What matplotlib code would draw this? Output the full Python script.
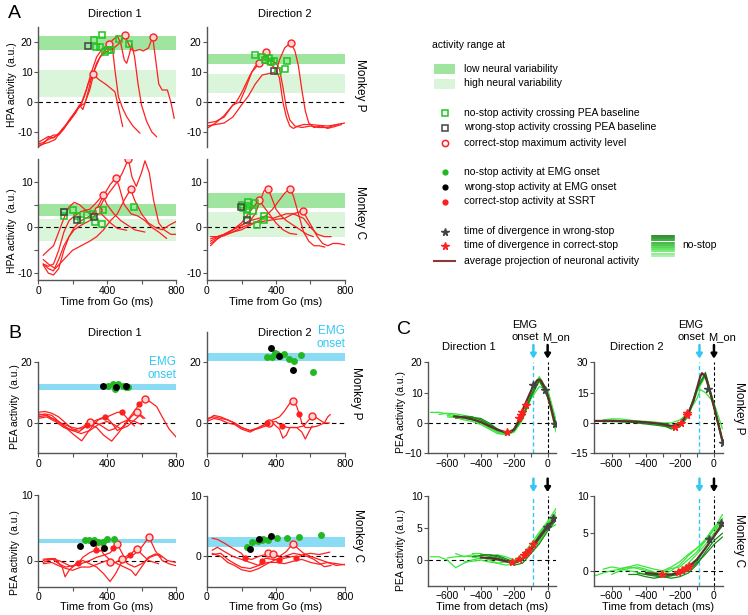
import numpy as np
import matplotlib
matplotlib.use("Agg")
import matplotlib.pyplot as plt

plt.rcParams['font.family'] = ['Liberation Sans', 'DejaVu Sans']
plt.rcParams['font.size'] = 7.5
plt.rcParams['axes.linewidth'] = 1.0

# ---------------- colours ----------------
RED = '#ff1f1f'
BAND_DK = '#9fe49f'
BAND_LT = '#daf5da'
SQ_GREEN = '#1fc41f'
DOT_GREEN = '#22b822'
CYAN_BAND = '#8adcf5'
CYAN = '#33c8f2'
LIME = '#3be63b'
DKGREEN = '#178a17'
AVG = '#5e2f2f'
GRAY = '#444444'
SPINE = '#555555'

# ================= Panel A data (HPA activity) =================
A_P1_curves = [
    [(0, -14), (30, -13.5), (60, -12.5), (100, -11.5), (140, -9.5), (180, -6), (220, -3), (250, -1), (270, 2),
     (290, 6), (321, 9.2), (350, 7.6), (398, 5.7), (446, 3.4), (466, -1.6), (491, -8.2)],
    [(0, -15), (30, -14), (60, -12), (90, -11), (120, -11), (150, -9), (190, -5.5), (230, -2), (250, -0.5),
     (280, 4), (310, 10), (340, 15), (370, 17.5), (395, 18.5), (413, 19.2), (433, 17.3), (446, 10.7),
     (466, 1.8), (490, -2), (514, -4.9), (550, -8), (591, -10.4)],
    [(0, -14.5), (30, -14), (60, -13.5), (100, -12.5), (140, -9), (180, -6.5), (220, -3.5), (240, -1),
     (260, -2.5), (280, 1), (310, 8), (340, 13), (370, 16), (400, 18), (430, 20.5), (460, 22), (480, 19.5),
     (500, 14), (514, 12.9), (530, 16), (543, 19.3), (560, 15), (580, 6), (600, -1), (630, -6.5),
     (660, -10), (688, -11.6)],
    [(0, -13.5), (30, -12.5), (60, -11.5), (90, -12), (120, -10.5), (160, -8), (200, -5), (240, -1.5),
     (270, -0.5), (300, 4), (330, 11), (360, 15), (400, 17), (440, 18), (470, 19.5), (504, 22.4), (520, 20),
     (540, 17.5), (560, 17), (590, 17.5), (610, 17), (640, 18), (665, 21.7), (680, 15), (700, 6), (720, 4),
     (750, 4), (770, 0), (790, -5.5)],
]
A_P1_circ_t = [321, 413, 504, 665]
A_P1_circ_v = [9.2, 19.2, 22.4, 21.7]
A_P1_sqg_t = [326, 372, 336, 360, 387, 405, 425, 467, 530]
A_P1_sqg_v = [20.7, 22.3, 18.3, 18.5, 16.8, 17.5, 17.2, 21.0, 19.3]
A_P1_sqk_t = [292]
A_P1_sqk_v = [18.8]
A_P1_bands = [(17.3, 22.0), (1.6, 10.7)]

A_P2_curves = [
    [(0, -7), (50, -6.5), (100, -5), (150, -1), (170, 0), (200, 3), (250, 9), (280, 12), (300, 12.9), (330, 13),
     (360, 12.5), (380, 12), (400, 11), (420, 8), (440, 0), (460, -5), (480, -8), (500, -8.8), (530, -8),
     (560, -7.5), (600, -7.5), (650, -7.8), (700, -8), (761, -7.5)],
    [(0, -8.8), (50, -7), (100, -4.5), (150, -1), (190, 0), (220, 4), (260, 10), (290, 12), (320, 14),
     (342, 16.6), (360, 14), (400, 13), (420, 11), (440, 5), (460, -2), (480, -6), (510, -8), (550, -8.5),
     (600, -8), (650, -8.5), (700, -8.5), (750, -7.5), (800, -7)],
    [(0, -8), (50, -7.5), (100, -7), (150, -5), (200, -1), (240, 2), (280, 6), (320, 9), (360, 9.5), (400, 10),
     (420, 14), (450, 18), (485, 19.8), (510, 17), (530, 12), (550, 4), (570, -3), (590, -7), (620, -8.5),
     (660, -8), (700, -8.8), (740, -8.2), (780, -7.5)],
]
A_P2_circ_t = [300, 342, 485]
A_P2_circ_v = [12.9, 16.6, 19.8]
A_P2_sqg_t = [278, 317, 336, 361, 369, 388, 413, 452, 466]
A_P2_sqg_v = [15.7, 15.1, 14.0, 14.7, 13.4, 13.8, 10.3, 11.0, 13.7]
A_P2_sqk_t = [388]
A_P2_sqk_v = [10.3]
A_P2_bands = [(12.6, 16.0), (3.1, 9.2)]

A_C1_curves = [
    [(30, -6.1), (60, -5), (90, -4), (120, -1), (150, 2), (180, 4.5), (210, 5.5), (240, 5), (270, 4), (300, 3),
     (330, 3.2), (346, 3.8), (380, 2.5), (420, 1), (460, -0.2), (514, -0.6)],
    [(30, -8), (60, -8.5), (90, -8), (120, -5), (150, -1), (180, 1.5), (210, 2.5), (250, 3.5), (300, 4),
     (340, 5.5), (375, 7.1), (400, 5), (440, 3), (480, 1.5), (520, 0.5), (560, -0.5), (620, -1)],
    [(30, -8.2), (60, -10), (90, -10.4), (120, -9), (150, -5), (180, -2), (210, 0), (250, 1.5), (300, 2.5),
     (340, 4), (380, 7), (420, 9.5), (452, 10.9), (470, 9), (500, 5), (540, 3), (580, 2.5), (620, 1.5),
     (660, 0), (700, -1), (746, -2.4)],
    [(30, -8), (60, -9), (90, -9.5), (120, -7), (150, -4), (180, -2), (210, -0.5), (250, 0.5), (300, 1.5),
     (340, 3), (380, 6), (420, 8), (460, 10), (490, 12), (524, 15), (545, 11), (570, 9), (600, 12), (620, 14.6),
     (645, 12), (670, 6), (700, 1), (730, -0.5), (770, -1.5), (800, -1.5)],
    [(30, -7), (60, -8), (100, -9), (150, -7), (200, -5), (250, -4), (300, -3), (340, -2), (380, -0.5),
     (420, 1.5), (460, 3), (500, 6), (537, 8.4), (560, 6), (600, 3), (640, 1), (680, 0), (720, -0.5),
     (760, 0.5), (800, 1.3)],
]
A_C1_circ_t = [346, 375, 452, 524, 537]
A_C1_circ_v = [3.8, 7.1, 10.9, 15.0, 8.4]
A_C1_sqg_t = [153, 153, 205, 224, 252, 286, 321, 375, 330, 369, 556]
A_C1_sqg_v = [3.4, 2.6, 3.9, 2.5, 1.6, 2.8, 3.0, 3.8, 1.1, 0.7, 4.4]
A_C1_sqk_t = [153, 224, 326]
A_C1_sqk_v = [3.5, 1.7, 2.2]
A_C1_bands = [(2.5, 5.1), (-2.9, 1.8)]

A_C2_curves = [
    [(20, -3.5), (60, -2.5), (100, -1.5), (150, -0.5), (200, 1), (250, 3.5), (280, 5), (303, 6), (330, 4.5),
     (360, 3), (400, 1), (440, -0.5), (480, -1.3), (520, -1.5)],
    [(20, -2.5), (60, -2), (100, -1.5), (150, -0.5), (200, 0.5), (250, 1.5), (280, 3), (310, 6), (330, 8),
     (352, 8.4), (370, 7), (400, 4), (430, 2.5), (460, 1.5), (500, 0.5), (540, -0.5), (580, -1.5), (616, -2)],
    [(20, -4), (60, -2.5), (100, -1.5), (150, -0.5), (200, 0.5), (250, 1.5), (300, 2), (340, 2.5), (380, 4),
     (420, 6), (450, 7.5), (481, 8.5), (500, 7), (530, 3), (560, -1), (590, -3), (620, -4), (650, -4),
     (684, -4.3)],
    [(20, -2), (60, -2), (100, -1.5), (150, -1), (200, -0.5), (250, 0.5), (300, 1.5), (340, 2.5), (380, 2),
     (420, 2.5), (460, 3), (500, 3), (530, 3.3), (554, 3.7), (580, 2), (610, 0), (640, -2), (670, -3.5),
     (700, -4), (730, -3.5), (760, -3.5), (800, -3.8)],
    [(20, -3), (60, -2.2), (100, -1.8), (150, -1), (200, 0), (250, 0.8), (300, 1.2), (350, 1.5), (400, 1.8),
     (450, 2), (500, 3), (560, 2), (600, 0), (640, -1.5), (680, -2), (720, -2)],
]
A_C2_circ_t = [303, 352, 481, 554]
A_C2_circ_v = [6.0, 8.4, 8.5, 3.7]
A_C2_sqg_t = [201, 236, 211, 230, 240, 269, 278, 230, 330, 330, 288]
A_C2_sqg_v = [4.9, 5.6, 4.2, 3.8, 4.8, 3.6, 5.3, 2.7, 2.5, 1.7, 0.6]
A_C2_sqk_t = [195, 230]
A_C2_sqk_v = [4.4, 1.6]
A_C2_bands = [(4.2, 7.6), (-2.1, 3.4)]

# ================= Panel B data (PEA activity, from Go) =================
B_P1_curves = [
    [(0, 3.5), (40, 3.8), (80, 3.2), (120, 2), (160, 0), (200, -2), (240, -2.8), (270, -1.5), (286, -0.7),
     (302, 0.3), (330, 0.3), (370, -1), (410, -2.5), (440, -2), (480, 0), (520, 1), (560, 0.5), (600, -0.5)],
    [(0, 2.5), (40, 3), (80, 2.5), (120, 0.5), (160, -1.5), (200, -3.5), (253, -5.9), (290, -3), (330, 0),
     (360, 1.5), (389, 2), (420, 0.5), (460, -2.5), (500, -1), (540, 2), (572, 3.7), (600, 2.5), (620, 1.5)],
    [(0, 2), (50, 2.5), (100, 1), (150, -0.5), (200, -1.5), (250, -2), (300, -0.5), (340, -1.5), (380, -4),
     (427, -6), (470, -3), (520, 1), (560, 4), (588, 6.3), (620, 7.9), (650, 7), (688, 5.4), (720, 2),
     (760, -2), (800, -4.6)],
    [(0, 1.5), (50, 2), (100, 0.5), (150, -1.5), (200, -2.5), (250, -1.5), (300, 0), (340, 1), (380, 1.5),
     (420, 2.5), (460, 3.5), (486, 3.6), (510, 2), (540, 0), (560, -1)],
    [(0, 3), (50, 2.5), (100, 1), (150, -1), (200, -2.5), (250, -3.5), (300, -2.5), (350, -0.5), (400, 0.5),
     (440, -0.5), (480, -2), (520, -1), (560, 1), (590, 2.5), (610, 1.5)],
]
B_P1_dot_t = [286, 389, 486, 588]
B_P1_dot_v = [-0.7, 2.0, 3.6, 6.3]
B_P1_circ_t = [302, 572, 620]
B_P1_circ_v = [0.3, 3.7, 7.9]
B_P1_g_t = [408, 433, 447, 466, 491, 510, 524]
B_P1_g_v = [12.1, 12.7, 11.1, 12.8, 12.3, 11.9, 11.7]
B_P1_k_t = [379, 452, 510]
B_P1_k_v = [12.3, 11.7, 12.3]
B_P1_band = (10.9, 12.8)

B_P2_curves = [
    [(0, 1), (40, 2.5), (80, 2), (120, 1), (160, 0), (200, -1.5), (250, -2.5), (300, -1.5), (345, -0.1),
     (380, 1), (420, 2), (450, 4), (480, 6.5), (500, 7.3), (520, 5.5), (535, 2.9), (550, 0), (570, -1.5),
     (600, -1.5), (640, -1), (680, 0), (700, 2), (715, 2.8)],
    [(0, 1.5), (40, 2), (80, 1.5), (120, 1), (160, 0), (200, -1.5), (250, -2.5), (300, -1.8), (340, -1),
     (380, 0), (420, -2), (440, -5), (460, -4), (480, -1.5), (520, -1.5), (550, -3), (570, -5.3), (590, -3),
     (610, -1)],
    [(0, 0.5), (40, 1.5), (80, 1), (120, 0), (160, -0.5), (200, -2), (250, -3), (300, -1.5), (360, 0.1),
     (400, 0.5), (434, -1), (470, -1.5), (520, -1.5), (560, -1), (590, 1), (611, 2.4), (640, 1.5), (680, 0),
     (710, 0)],
]
B_P2_dot_t = [345, 434, 535]
B_P2_dot_v = [-0.1, -1.0, 2.9]
B_P2_circ_t = [360, 500, 611]
B_P2_circ_v = [0.1, 7.3, 2.4]
B_P2_g_t = [345, 374, 394, 407, 426, 446, 475, 504, 545, 616]
B_P2_g_v = [21.9, 21.9, 23.2, 22.7, 22.2, 22.6, 21.0, 20.6, 22.3, 16.7]
B_P2_k_t = [369, 419, 500]
B_P2_k_v = [24.6, 22.2, 17.5]
B_P2_band = (20.5, 23.2)

B_C1_curves = [
    [(30, 0), (60, 0.2), (100, 0.3), (140, -1), (157, -2.5), (180, -1.5), (220, -0.5), (260, 0), (300, -0.5),
     (340, -1), (380, -2), (418, -3.2), (450, -2), (480, -0.5), (520, 0.5), (560, 1), (600, 2), (643, 3.6),
     (680, 1.5), (720, 0), (760, -0.5), (800, -0.8)],
    [(30, -0.3), (80, 0.2), (120, 0), (160, -0.5), (200, -1), (234, -0.4), (260, 0.5), (300, 1.2), (336, 1.6),
     (355, 2.1), (380, 1), (420, 0), (460, -0.5), (500, -1), (540, -1.5), (566, -2.3), (600, -1), (640, 0.5),
     (680, 1), (720, 0.5)],
    [(30, 0.2), (80, 0.3), (120, -0.5), (160, -1), (200, -0.8), (250, -0.5), (300, 0), (340, 0.5), (380, 0.8),
     (420, 1.2), (437, 1.9), (460, 2.5), (480, 1.5), (500, 0.5), (533, 0.9), (572, 1.8), (600, 1), (640, 0),
     (700, -0.5)],
    [(30, -0.5), (80, -0.3), (120, -0.8), (160, -1.2), (200, -1.5), (250, -1), (300, -1), (350, -0.5),
     (400, 0), (450, -0.3), (489, 0.3), (520, -0.5), (560, -1), (600, -0.5), (650, 0.5), (700, 1), (750, 0),
     (800, -0.3)],
]
B_C1_dot_t = [234, 336, 437, 533]
B_C1_dot_v = [-0.4, 1.6, 1.9, 0.9]
B_C1_circ_t = [355, 460, 489, 572, 643, 418]
B_C1_circ_v = [2.1, 2.5, 0.3, 1.8, 3.6, -0.3]
B_C1_g_t = [272, 298, 325, 350, 375, 398, 441]
B_C1_g_v = [3.1, 3.1, 3.2, 2.8, 2.9, 3.3, 3.3]
B_C1_k_t = [243, 321, 383]
B_C1_k_v = [2.2, 2.7, 1.9]
B_C1_band = (2.7, 3.3)

B_C2_curves = [
    [(30, 3), (60, 2.8), (100, 2.2), (150, 1.3), (200, 0.5), (220, -0.3), (260, -0.5), (300, 0), (340, 0.3),
     (355, 0.5), (384, 0.4), (420, 0), (460, 0.8), (480, 1.5), (500, 2.1), (520, 1.5), (560, 0.5), (600, 0),
     (650, -0.5), (700, -1), (750, -1.2), (800, -1.4)],
    [(30, 1), (60, 1.5), (100, 0.8), (150, 0), (200, -0.5), (250, -1), (300, -1.5), (317, -0.8), (340, -0.3),
     (380, -0.5), (419, -0.6), (450, -0.3), (500, 0), (516, -0.2), (560, 0.3), (600, 0.5), (650, 0.3),
     (712, 0.7)],
    [(30, 0.3), (80, 0.5), (120, -0.5), (160, -1.2), (200, -1.8), (250, -2), (300, -1.5), (350, -1),
     (400, -1), (450, -1.2), (500, -0.8), (550, -0.5), (600, -1), (650, -1.3), (700, -1), (750, -1.5),
     (800, -1.3)],
    [(30, 0.5), (80, 0), (120, -1), (160, -1.5), (200, -2.2), (250, -2.5), (300, -2), (350, -1.2), (400, -0.5),
     (450, 0), (500, 0.5), (540, 0.3), (580, 0), (620, -0.5), (680, -1.7), (720, -1.5)],
]
B_C2_dot_t = [220, 317, 419, 516]
B_C2_dot_v = [-0.3, -0.8, -0.6, -0.2]
B_C2_circ_t = [355, 384, 500]
B_C2_circ_v = [0.5, 0.4, 2.1]
B_C2_g_t = [234, 259, 298, 317, 327, 355, 408, 466, 535, 660]
B_C2_g_v = [1.6, 2.4, 2.6, 2.7, 2.8, 2.7, 3.0, 3.1, 3.2, 3.6]
B_C2_k_t = [249, 303, 369]
B_C2_k_v = [1.2, 2.9, 3.4]
B_C2_band = (1.6, 3.2)

# ================= Panel C data (PEA activity, from detach) =================
C_P1_lime = [
    [(-700, 3.5), (-650, 3.5), (-600, 3), (-550, 2.5), (-500, 2), (-450, 1.5), (-400, 0.5), (-350, -1),
     (-300, -2.5), (-250, -3.2), (-200, -2), (-150, 2), (-100, 9), (-50, 15), (0, 10), (50, -2)],
    [(-650, 2.8), (-600, 3.2), (-550, 3), (-500, 2.5), (-450, 2), (-400, 1), (-350, -0.5), (-300, -2),
     (-250, -3.5), (-200, -2.5), (-150, 1.5), (-100, 8.5), (-50, 15.3), (0, 10.5), (50, -1)],
    [(-600, 2.5), (-550, 2), (-500, 2.2), (-450, 1.8), (-400, 0.5), (-350, -1.5), (-300, -3), (-250, -4),
     (-200, -3), (-150, 1), (-100, 8), (-50, 14), (0, 9), (50, -3)],
    [(-550, 2), (-500, 1.5), (-450, 1), (-400, 0), (-350, -1.5), (-300, -3), (-250, -3.5), (-200, -2.8),
     (-150, 2.5), (-100, 9.5), (-50, 13.5), (0, 11), (50, 0)],
    [(-600, 2), (-550, 1.8), (-500, 1), (-450, 0.5), (-400, -0.5), (-350, -2), (-300, -3.5), (-250, -3.8),
     (-200, -2.5), (-150, 2), (-100, 8), (-50, 12), (0, 11), (50, 1)],
]
C_P1_dark = [
    [(-500, 2), (-450, 1.8), (-400, 1.5), (-350, 0), (-300, -2), (-250, -3.5), (-200, -2), (-150, 2),
     (-100, 9), (-50, 14.5), (0, 9.5), (50, -1)],
    [(-550, 1.5), (-500, 2.2), (-450, 2), (-400, 1), (-350, -0.5), (-300, -2.5), (-250, -3), (-200, -2.5),
     (-150, 1.5), (-100, 8.5), (-50, 14), (0, 8.5), (50, -0.5)],
]
C_P1_avg = [(-560, 2.2), (-500, 1.8), (-450, 1.2), (-400, 0.3), (-350, -1), (-300, -2.2), (-250, -3.1),
            (-220, -3), (-200, -2), (-180, 0), (-160, 3), (-140, 5.5), (-120, 8), (-100, 10.5), (-80, 12.8),
            (-60, 14.2), (-50, 14.3), (-40, 14), (-20, 12), (0, 9), (20, 5), (40, 0.5), (50, -1)]
C_P1_rstar_t = [-241, -171, -160, -155, -129]
C_P1_rstar_v = [-2.9, 1.5, 2.5, 3.7, 5.9]
C_P1_kstar_t = [-86, -16, 44]
C_P1_kstar_v = [12.5, 10.9, -0.4]

C_P2_lime = [
    [(-700, 1.2), (-650, 1), (-600, 1.5), (-550, 1.2), (-500, 1), (-450, 0.8), (-400, 0.5), (-350, 0),
     (-300, -0.8), (-250, -1.5), (-200, -0.5), (-150, 4), (-100, 16), (-50, 23), (0, 8.5), (50, -8)],
    [(-650, 1.5), (-600, 2), (-550, 2), (-500, 1.5), (-450, 1), (-400, 0.5), (-350, -0.5), (-300, -1.5),
     (-250, -2.5), (-200, -1), (-150, 5), (-100, 17), (-50, 24.5), (0, 9), (50, -9)],
    [(-600, 0.5), (-550, 1), (-500, 0.5), (-450, 0.3), (-400, 0), (-350, -0.5), (-300, -1), (-250, -2),
     (-200, -1.5), (-150, 3), (-100, 15), (-50, 24), (0, 7.5), (50, -10)],
    [(-550, 0.5), (-500, 1), (-450, 1), (-400, 0.8), (-350, 0.5), (-300, 0), (-250, 0), (-200, 1.5),
     (-150, 5), (-100, 12), (-80, 16.5), (-50, 15), (0, 10), (50, -3)],
    [(-700, 0.8), (-650, 1.2), (-600, 1), (-550, 0.5), (-500, 0.3), (-450, 0.5), (-400, 0.2), (-350, -0.3),
     (-300, -1.2), (-250, -2.2), (-200, -1.2), (-150, 4.5), (-100, 16), (-50, 23.5), (0, 8), (50, -9)],
]
C_P2_dark = [
    [(-500, 1), (-450, 0.8), (-400, 0.5), (-350, 0), (-300, -1), (-250, -3), (-200, -2), (-150, 4),
     (-100, 17), (-50, 25), (0, 9.5), (50, -9)],
    [(-650, 0.5), (-600, 0.8), (-550, 0.8), (-500, 0.5), (-450, 0), (-400, -0.5), (-350, -1), (-300, -1.5),
     (-250, -2), (-200, -1), (-150, 4.5), (-100, 16.5), (-50, 24), (0, 8), (50, -9.5)],
]
C_P2_avg = [(-700, 1), (-600, 1), (-500, 0.8), (-400, 0.3), (-300, -0.5), (-250, -1.5), (-200, -0.5),
            (-150, 5), (-120, 11), (-100, 17), (-80, 23), (-70, 24.6), (-50, 23), (-30, 17.5), (0, 8),
            (30, -2), (53, -10)]
C_P2_rstar_t = [-228, -195, -160, -157]
C_P2_rstar_v = [-2.1, 0.0, 4.1, 4.9]
C_P2_kstar_t = [-33, 51]
C_P2_kstar_v = [16.8, -9.7]

C_C1_lime = [
    [(-700, 0.5), (-650, 0.5), (-600, 0), (-550, -1.2), (-500, -0.5), (-450, 0), (-400, 0.3), (-350, 0.2),
     (-300, 0), (-250, -0.3), (-200, -0.5), (-150, 0), (-100, 1.5), (-50, 3.5), (0, 5.5), (50, 7.5)],
    [(-550, 1), (-500, 0.5), (-450, 0.8), (-400, 0.5), (-350, 0), (-300, -0.5), (-250, -0.3), (-200, -0.2),
     (-150, 0.5), (-100, 2), (-50, 4), (0, 5.8), (50, 7)],
    [(-500, -0.3), (-450, -0.2), (-400, 0), (-350, -0.3), (-300, -0.5), (-250, -0.8), (-200, -0.6),
     (-150, 0), (-100, 1.2), (-50, 2.8), (0, 4.8), (50, 5.5)],
    [(-600, 0.3), (-550, 0.5), (-500, 0.6), (-450, 0.5), (-400, 0.2), (-350, 0.5), (-300, 0.8), (-250, 0.5),
     (-200, 0), (-150, 0.8), (-100, 2.5), (-50, 4.3), (0, 6), (50, 8)],
    [(-450, 1), (-400, 1), (-350, 0.5), (-300, 0.2), (-250, -0.2), (-200, -0.3), (-150, 0.3), (-100, 1.8),
     (-50, 3.8), (0, 5.2), (50, 6.8)],
]
C_C1_dark = [
    [(-400, 0.8), (-350, 0.8), (-300, 0.5), (-250, 0), (-200, -0.5), (-150, 0.2), (-100, 1.5), (-50, 3.2),
     (0, 5), (50, 6.2)],
    [(-450, 0.5), (-400, 0.7), (-350, 0.8), (-300, 0.7), (-250, 0.2), (-200, -0.3), (-150, 0.3), (-100, 2),
     (-50, 3.8), (0, 5.5), (50, 6.5)],
    [(-350, 0.5), (-300, 0.3), (-250, -0.2), (-200, -0.8), (-150, -0.5), (-100, 1), (-50, 2.5), (0, 4.5),
     (50, 6.2)],
]
C_C1_avg = [(-400, 0.4), (-350, 0.3), (-300, 0.1), (-250, -0.2), (-200, -0.4), (-150, 0.1), (-100, 1.7),
            (-50, 3.5), (0, 5.2), (50, 6.5)]
C_C1_rstar_t = [-215, -170, -142, -127, -111, -90]
C_C1_rstar_v = [-0.3, 0.2, 0.7, 1.1, 1.6, 2.5]
C_C1_kstar_t = [-6, 33]
C_C1_kstar_v = [5.2, 6.5]

C_C2_lime = [
    [(-700, -0.7), (-650, -0.3), (-600, 0), (-550, 0.2), (-500, 0.5), (-450, 0.3), (-400, 0), (-350, -0.3),
     (-300, -0.5), (-250, 0), (-200, 0.8), (-150, 2), (-100, 3), (-50, 4), (0, 5.5), (50, 7.5)],
    [(-600, -0.5), (-550, 0), (-500, 0.3), (-450, 0.5), (-400, 0.2), (-350, -0.2), (-300, -0.5), (-250, -0.5),
     (-200, 0), (-150, 1), (-100, 2.2), (-50, 3.5), (0, 5), (50, 7)],
    [(-550, 0.3), (-500, 0.5), (-450, 0.8), (-400, 0.5), (-350, 0.2), (-300, 0), (-250, 0.5), (-200, 1.2),
     (-150, 2.2), (-100, 3), (-50, 4.2), (0, 5.8), (50, 6.8)],
    [(-650, 0.2), (-600, 0.5), (-550, 0.3), (-500, 0), (-450, -0.2), (-400, -0.5), (-350, -0.5), (-300, -0.2),
     (-250, 0.3), (-200, 0.5), (-150, 1.5), (-100, 2.5), (-50, 4), (0, 5.5), (50, 6.5)],
]
C_C2_dark = [
    [(-400, -0.5), (-350, -0.7), (-300, -0.8), (-250, -1), (-200, -0.8), (-150, -0.3), (-100, 0.8), (-50, 2.5),
     (0, 4), (50, 5)],
    [(-450, -0.3), (-400, -0.5), (-350, -0.6), (-300, -0.8), (-250, -0.7), (-200, -0.4), (-150, 0.2),
     (-100, 1.2), (-50, 3), (0, 4.5), (50, 6)],
    [(-500, -0.5), (-450, -0.5), (-400, -0.8), (-350, -1), (-300, -0.8), (-250, -0.6), (-200, -0.5), (-150, 0),
     (-100, 1), (-50, 2.2), (0, 3.5), (50, 4.5)],
]
C_C2_avg = [(-400, -0.3), (-350, -0.4), (-300, -0.5), (-250, -0.5), (-200, -0.2), (-150, 0.5), (-100, 1.5),
            (-50, 3), (0, 4.6), (50, 6.3)]
C_C2_rstar_t = [-306, -209, -185, -165, -148]
C_C2_rstar_v = [-0.5, -0.2, 0.1, 0.3, 0.6]
C_C2_kstar_t = [-27, 39]
C_C2_kstar_v = [4.2, 6.3]

EMG_T = -85

# ---------------- figure ----------------
W, H = 748, 615
fig = plt.figure(figsize=(W / 100, H / 100), dpi=100)

# overlay axes in pixel coordinates for legend / labels
lg = fig.add_axes([0, 0, 1, 1])
lg.set_xlim(0, W)
lg.set_ylim(H, 0)
lg.axis('off')


def px_axes(x0, y0, x1, y1):
    return fig.add_axes([x0 / W, 1 - y1 / H, (x1 - x0) / W, (y1 - y0) / H])


def ftext(x, y, s, **kw):
    kw.setdefault('ha', 'center')
    kw.setdefault('va', 'center')
    fig.text(x / W, 1 - y / H, s, **kw)


def style(ax, show_x=True):
    for s in ['top', 'right']:
        ax.spines[s].set_visible(False)
    for s in ['left', 'bottom']:
        ax.spines[s].set_color(SPINE)
    ax.tick_params(direction='out', length=3, width=0.8, color=SPINE, labelsize=7.5, pad=1)
    ax.tick_params(which='minor', direction='out', length=3, width=0.8, color=SPINE)
    ax.patch.set_alpha(0)
    if not show_x:
        ax.spines['bottom'].set_visible(False)
        ax.set_xticks([])


def plot_curves(ax, curves, color, lw=0.9, z=2):
    for c in curves:
        a = np.array(c, dtype=float)
        ax.plot(a[:, 0], a[:, 1], color=color, lw=lw, zorder=z, solid_capstyle='round')


def panel_A(ax, curves, ct, cv, gt, gv, kt, kv, bands, ylim, yticks, ylabels, minor, show_x):
    ax.axhspan(*bands[0], color=BAND_DK, lw=0, zorder=0)
    ax.axhspan(*bands[1], color=BAND_LT, lw=0, zorder=0)
    ax.axhline(0, color='k', ls=(0, (4, 3)), lw=0.8, zorder=1)
    plot_curves(ax, curves, RED)
    ax.plot(ct, cv, 'o', ms=5, mfc='#ffd6d6', mec=RED, mew=1, zorder=3)
    ax.plot(gt, gv, 's', ms=5, mfc='none', mec=SQ_GREEN, mew=1.1, zorder=4)
    ax.plot(kt, kv, 's', ms=5, mfc='none', mec=GRAY, mew=1.1, zorder=4)
    ax.set_xlim(0, 800)
    ax.set_ylim(*ylim)
    ax.set_yticks(yticks)
    ax.set_yticklabels(ylabels)
    ax.set_yticks(minor, minor=True)
    style(ax, show_x)
    if show_x:
        ax.set_xticks([0, 400, 800])
        ax.set_xticks([200, 600], minor=True)


A_top_ticks = [-10, 0, 10, 20]
A_top_lbl = ['-10', '0', '10', '20']
A_bot_ticks = [-10, 0, 10]
A_bot_lbl = ['-10', '0', '10']

ax = px_axes(38, 27, 176, 147)
panel_A(ax, A_P1_curves, A_P1_circ_t, A_P1_circ_v, A_P1_sqg_t, A_P1_sqg_v, A_P1_sqk_t, A_P1_sqk_v,
        A_P1_bands, (-15, 25), A_top_ticks, A_top_lbl, [], False)
ax = px_axes(207, 27, 345, 147)
panel_A(ax, A_P2_curves, A_P2_circ_t, A_P2_circ_v, A_P2_sqg_t, A_P2_sqg_v, A_P2_sqk_t, A_P2_sqk_v,
        A_P2_bands, (-15, 25), A_top_ticks, A_top_lbl, [], False)
ax = px_axes(38, 159, 176, 280)
panel_A(ax, A_C1_curves, A_C1_circ_t, A_C1_circ_v, A_C1_sqg_t, A_C1_sqg_v, A_C1_sqk_t, A_C1_sqk_v,
        A_C1_bands, (-11.5, 15), A_bot_ticks, A_bot_lbl, [-5, 5], True)
ax = px_axes(207, 159, 345, 280)
panel_A(ax, A_C2_curves, A_C2_circ_t, A_C2_circ_v, A_C2_sqg_t, A_C2_sqg_v, A_C2_sqk_t, A_C2_sqk_v,
        A_C2_bands, (-11.5, 15), A_bot_ticks, A_bot_lbl, [-5, 5], True)


def panel_B(ax, curves, dt, dv, ct, cv, gt, gv, kt, kv, band, ylim, spine_top, yticks):
    ax.axhspan(*band, color=CYAN_BAND, lw=0, zorder=0)
    ax.axhline(0, color='k', ls=(0, (4, 3)), lw=0.8, zorder=1)
    plot_curves(ax, curves, RED)
    ax.plot(ct, cv, 'o', ms=5, mfc='#ffd6d6', mec=RED, mew=1, zorder=3)
    ax.plot(dt, dv, 'o', ms=4.5, color=RED, mec='none', zorder=4)
    ax.plot(gt, gv, 'o', ms=5, color=DOT_GREEN, mec='none', zorder=4)
    ax.plot(kt, kv, 'o', ms=5, color='k', mec='none', zorder=5)
    ax.set_xlim(0, 800)
    ax.set_ylim(*ylim)
    ax.set_yticks(yticks)
    ax.spines['left'].set_bounds(ylim[0], spine_top)
    style(ax)
    ax.set_xticks([0, 400, 800])
    ax.set_xticks([200, 600], minor=True)


ax = px_axes(38, 332, 176, 453.3)
panel_B(ax, B_P1_curves, B_P1_dot_t, B_P1_dot_v, B_P1_circ_t, B_P1_circ_v, B_P1_g_t, B_P1_g_v,
        B_P1_k_t, B_P1_k_v, B_P1_band, (-10, 30), 20, [0, 20])
ax.text(800, 18, 'EMG\nonset', color=CYAN, ha='right', va='center', fontsize=8.5, linespacing=1.05)
ax = px_axes(207, 332, 345, 453.3)
panel_B(ax, B_P2_curves, B_P2_dot_t, B_P2_dot_v, B_P2_circ_t, B_P2_circ_v, B_P2_g_t, B_P2_g_v,
        B_P2_k_t, B_P2_k_v, B_P2_band, (-10, 30), 30, [0, 20])
ax.text(800, 28.2, 'EMG\nonset', color=CYAN, ha='right', va='center', fontsize=8.5, linespacing=1.05)
ax = px_axes(38, 495, 176, 586.7)
panel_B(ax, B_C1_curves, B_C1_dot_t, B_C1_dot_v, B_C1_circ_t, B_C1_circ_v, B_C1_g_t, B_C1_g_v,
        B_C1_k_t, B_C1_k_v, B_C1_band, (-4, 10), 10, [0, 10])
ax = px_axes(207, 495.7, 345, 586.7)
panel_B(ax, B_C2_curves, B_C2_dot_t, B_C2_dot_v, B_C2_circ_t, B_C2_circ_v, B_C2_g_t, B_C2_g_v,
        B_C2_k_t, B_C2_k_v, B_C2_band, (-5, 10), 10, [0, 10])


def panel_C(ax, lime, dark, avg, rt, rv, kt, kv, xlim, ylim, yticks):
    ax.axhline(0, color='k', ls=(0, (4, 3)), lw=0.8, zorder=1)
    ax.axvline(EMG_T, color=CYAN, ls=(0, (3, 2)), lw=1.0, zorder=1)
    ax.axvline(0, color='k', ls=(0, (3, 2)), lw=0.8, zorder=1)
    plot_curves(ax, lime, LIME, lw=0.9)
    plot_curves(ax, dark, DKGREEN, lw=0.9)
    plot_curves(ax, [avg], AVG, lw=1.6, z=3)
    ax.plot(rt, rv, '*', ms=5.5, color=RED, mec=RED, zorder=5)
    ax.plot(kt, kv, '*', ms=5.5, color=GRAY, mec=GRAY, zorder=5)
    ax.set_xlim(*xlim)
    ax.set_ylim(*ylim)
    ax.set_yticks(yticks)
    style(ax)
    ax.set_xticks([-600, -400, -200, 0])
    ax.set_xticks([-500, -300, -100], minor=True)
    for t, col in [(EMG_T, CYAN), (0, 'k')]:
        ax.annotate('', xy=(t, 1.04), xytext=(t, 1.19), xycoords=('data', 'axes fraction'),
                    arrowprops=dict(arrowstyle='-|>,head_width=0.22,head_length=0.35', color=col, lw=1.8,
                                    shrinkA=0, shrinkB=0), annotation_clip=False)


ax = px_axes(428, 362.3, 556, 453.3)
panel_C(ax, C_P1_lime, C_P1_dark, C_P1_avg, C_P1_rstar_t, C_P1_rstar_v, C_P1_kstar_t, C_P1_kstar_v,
        (-715, 50), (-10, 20), [-10, 0, 10, 20])
ax = px_axes(594, 362.3, 723, 453.3)
panel_C(ax, C_P2_lime, C_P2_dark, C_P2_avg, C_P2_rstar_t, C_P2_rstar_v, C_P2_kstar_t, C_P2_kstar_v,
        (-703, 53), (-15, 30), [-15, 0, 15, 30])
ax = px_axes(428, 495.7, 556, 585.7)
panel_C(ax, C_C1_lime, C_C1_dark, C_C1_avg, C_C1_rstar_t, C_C1_rstar_v, C_C1_kstar_t, C_C1_kstar_v,
        (-715, 50), (-4, 10), [0, 5, 10])
ax = px_axes(594, 495.7, 723, 585.7)
panel_C(ax, C_C2_lime, C_C2_dark, C_C2_avg, C_C2_rstar_t, C_C2_rstar_v, C_C2_kstar_t, C_C2_kstar_v,
        (-703, 53), (-2, 10), [0, 5, 10])

# ---------------- texts ----------------
ftext(8, 13, 'A', fontsize=14, ha='left')
ftext(8, 333, 'B', fontsize=14, ha='left')
ftext(397, 330, 'C', fontsize=14, ha='left')

for x, y, s in [(115, 14, 'Direction 1'), (285, 14, 'Direction 2'), (115, 333, 'Direction 1'),
                (285, 333, 'Direction 2'), (469, 347, 'Direction 1'), (637, 347, 'Direction 2')]:
    ftext(x, y, s, fontsize=8)

for x, y, s in [(360, 85, 'Monkey P'), (360, 213, 'Monkey C'), (356, 393, 'Monkey P'),
                (358, 536, 'Monkey C'), (739, 408, 'Monkey P'), (739, 541, 'Monkey C')]:
    ftext(x, y, s, fontsize=8.5, rotation=-90)

for x, y, s in [(12, 85, 'HPA activity  (a.u.)'), (12, 231, 'HPA activity  (a.u.)'),
                (15, 407, 'PEA activity  (a.u.)'), (15, 553, 'PEA activity  (a.u.)'),
                (401, 412, 'PEA activity (a.u.)'), (401, 550, 'PEA activity (a.u.)')]:
    ftext(x, y, s, fontsize=7.5, rotation=90)

for x, y, s in [(107, 302, 'Time from Go (ms)'), (276, 302, 'Time from Go (ms)'),
                (107, 607, 'Time from Go (ms)'), (276, 607, 'Time from Go (ms)'),
                (492, 607, 'Time from detach (ms)'), (658, 607, 'Time from detach (ms)')]:
    ftext(x, y, s, fontsize=8)

ftext(525, 325, 'EMG', fontsize=8)
ftext(525, 337, 'onset', fontsize=8)
ftext(556, 337, 'M_on', fontsize=8)
ftext(691, 325, 'EMG', fontsize=8)
ftext(691, 337, 'onset', fontsize=8)
ftext(722, 337, 'M_on', fontsize=8)

# ---------------- legend (pixel coordinates) ----------------
LX, TX = 445, 464
lg.text(432, 45, 'activity range at', fontsize=7.5, va='center')
lg.add_patch(plt.Rectangle((434, 64), 21, 10, color=BAND_DK, lw=0))
lg.add_patch(plt.Rectangle((434, 79), 21, 10, color=BAND_LT, lw=0))
leg_rows = [
    (69, 'low neural variability', None),
    (83.5, 'high neural variability', None),
    (112.5, 'no-stop activity crossing PEA baseline', dict(marker='s', ms=4.5, mfc='none', mec=SQ_GREEN, mew=1.1)),
    (127.5, 'wrong-stop activity crossing PEA baseline', dict(marker='s', ms=4.5, mfc='none', mec=GRAY, mew=1.1)),
    (142.5, 'correct-stop maximum activity level', dict(marker='o', ms=4.5, mfc='none', mec=RED, mew=1.1)),
    (172, 'no-stop activity at EMG onset', dict(marker='o', ms=4.5, color=DOT_GREEN, mec='none')),
    (186.5, 'wrong-stop activity at EMG onset', dict(marker='o', ms=4.5, color='k', mec='none')),
    (201.5, 'correct-stop activity at SSRT', dict(marker='o', ms=4.5, color=RED, mec='none')),
    (231.5, 'time of divergence in wrong-stop', dict(marker='*', ms=5.5, color=GRAY, mec=GRAY)),
    (245.5, 'time of divergence in correct-stop', dict(marker='*', ms=5.5, color=RED, mec=RED)),
    (261, 'average projection of neuronal activity', None),
]
for y, s, mk in leg_rows:
    lg.text(TX, y, s, fontsize=7.5, va='center')
    if mk is not None:
        lg.plot([LX], [y], ls='none', **mk)
lg.plot([434, 455], [261, 261], color='#8b3a3a', lw=1.5)

stripe_cols = ['#0f7a0f', '#168a16', '#1f9c1f', '#27ad27', '#2fbf2f', '#38d038', '#4cdc4c', '#66e466',
               '#80ea80', '#9bef9b']
for i, col in enumerate(stripe_cols):
    yy = 236 + i * 2.2
    lg.plot([652, 674], [yy, yy], color=col, lw=1.2)
lg.text(682, 245, 'no-stop', fontsize=7.5, va='center')

fig.savefig('out.png', dpi=100)
